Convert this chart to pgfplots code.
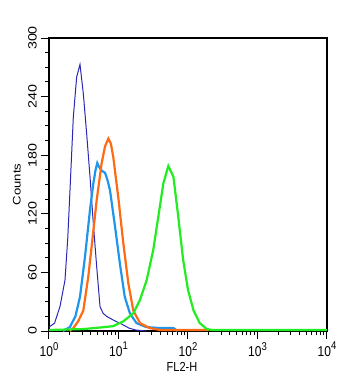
\documentclass[border=0pt]{standalone}
\usepackage{pgfplots}
\pgfplotsset{compat=1.18}
\usepackage{pgfplotstable}
\usepackage{graphicx}
\usepackage{fontspec}
\setmainfont{Liberation Sans}
\definecolor{dblue}{RGB}{40,40,180}
\definecolor{lblue}{RGB}{30,150,235}
\definecolor{orng}{RGB}{255,106,20}
\definecolor{grn}{RGB}{34,236,34}
\newcommand{\pw}[1]{\scalebox{1}[1.19]{10\raisebox{0.45em}{\fontsize{9.5}{10}\selectfont #1}}}
\newcommand{\yl}[1]{\scalebox{1.19}[1]{#1}}
\pgfplotstableread{
l c
0.00 4
0.08 8
0.158 25
0.23 52
0.27 95
0.302 144
0.35 219
0.398 260
0.446 273
0.494 243
0.542 202
0.59 158
0.638 110
0.686 66
0.734 25
0.78 18
0.83 15
0.93 11
1.02 8
1.10 5
1.15 3
1.25 1
1.40 0
}\dblue
\pgfplotstableread{
l c
0.20 0
0.30 4
0.38 15
0.446 35
0.518 76
0.59 124
0.638 151
0.67 165
0.695 172
0.72 168
0.76 164
0.806 162
0.84 155
0.878 144
0.95 107
1.02 69
1.09 35
1.165 18
1.26 8
1.40 4
1.60 3
1.79 3
1.85 0
}\lblue
\pgfplotstableread{
l c
0.30 0
0.35 3
0.42 10
0.494 21
0.566 56
0.628 96
0.686 134
0.758 172
0.806 189
0.854 197
0.89 192
0.925 178
0.997 137
1.069 90
1.141 49
1.213 21
1.31 8
1.45 3
1.60 1
2.30 1
}\orng
\pgfplotstableread{
l c
0.00 1
0.50 2
0.80 4
0.925 5
1.07 10
1.213 18
1.31 32
1.405 52
1.50 83
1.573 117
1.645 151
1.717 169
1.79 158
1.86 117
1.93 73
2.00 42
2.08 21
2.17 8
2.27 2
2.35 1
4.00 1
}\grn
\begin{document}
\begin{tikzpicture}
\path[use as bounding box] (-49pt,-49pt) rectangle (308pt,331pt);
\begin{axis}[
  scale only axis, width=278pt, height=293pt,
  xmode=log, xmin=1, xmax=10000, ymin=0, ymax=300,
  xtick={1,10,100,1000,10000},
  xticklabels={\pw{0},\pw{1},\pw{2},\pw{3},\pw{4}},
  ytick={0,60,120,180,240,300},
  yticklabels={\yl{0},\yl{60},\yl{120},\yl{180},\yl{240},\yl{300}},
  minor y tick num=3,
  tick pos=left, tick align=outside,
  major tick length=8pt, minor tick length=4pt,
  every tick/.style={black, line width=1pt},
  axis line style={line width=1.3pt},
  tick label style={font=\fontsize{12}{14}\selectfont},
  yticklabel style={rotate=90, anchor=south, inner sep=4pt},
  xticklabel style={inner sep=1pt, yshift=-2pt},
  xlabel={\scalebox{1}[1.19]{FL2-H}}, ylabel={\yl{Counts}},
  label style={font=\fontsize{11}{13}\selectfont},
  xlabel style={yshift=-3pt, xshift=-6pt, inner sep=1pt},
  ylabel style={yshift=0pt},
  clip=true,
]
\addplot[dblue, line width=1pt] table[x expr=10^\thisrow{l}, y=c]{\dblue};
\addplot[lblue, line width=2.2pt] table[x expr=10^\thisrow{l}, y=c]{\lblue};
\addplot[orng, line width=2.2pt] table[x expr=10^\thisrow{l}, y=c]{\orng};
\addplot[grn, line width=2.2pt] table[x expr=10^\thisrow{l}, y=c]{\grn};
\end{axis}
\end{tikzpicture}
\end{document}
